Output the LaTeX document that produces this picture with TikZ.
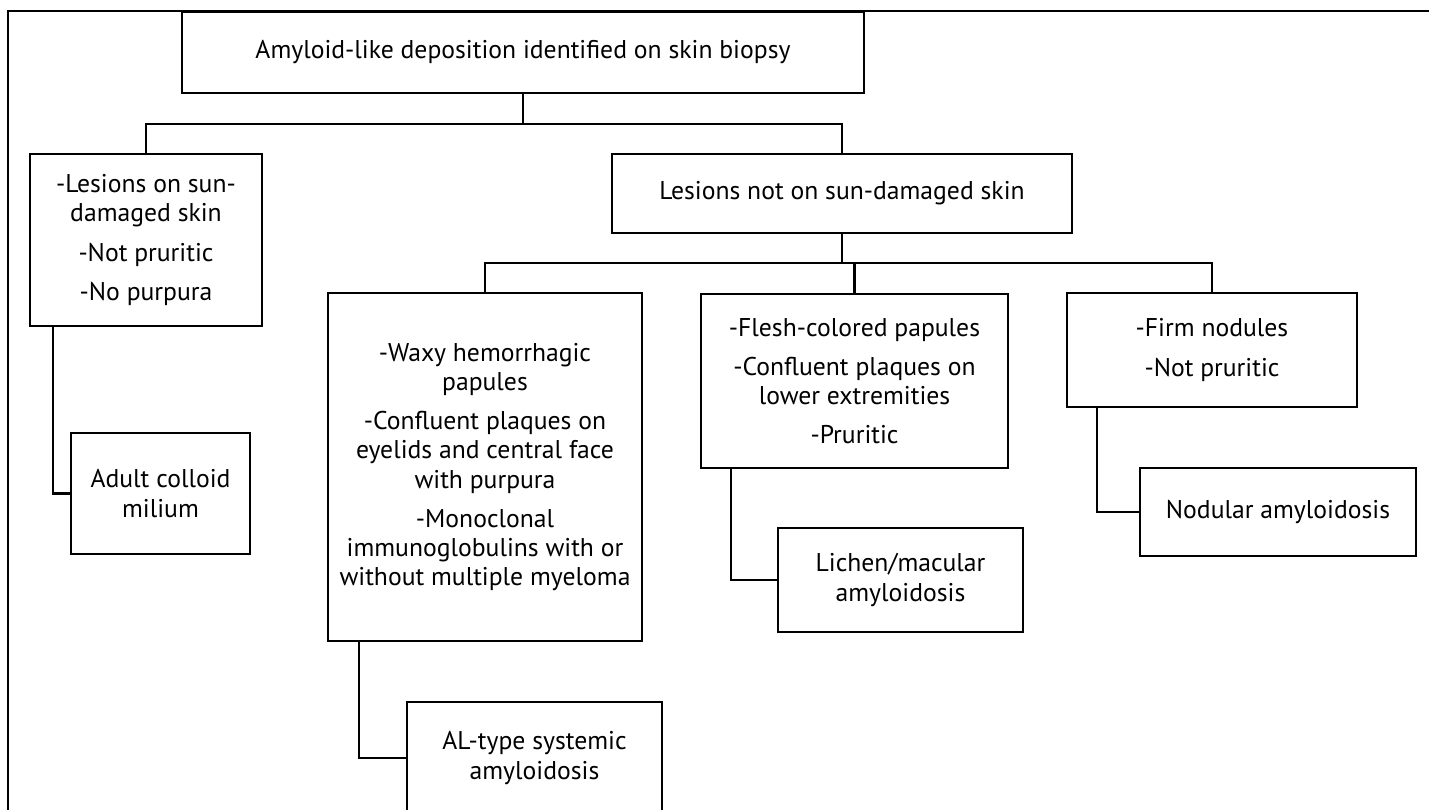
\documentclass[tikz,border=0pt]{standalone}
\usepackage{fontspec}
\setmainfont{PT Sans}
\usetikzlibrary{calc}
\newcommand{\itemgap}{2.0mm}
\tikzset{
  dxbox/.style={draw=black,line width=1.3pt,align=center,inner sep=0pt,
                font=\fontsize{14.6}{16.6}\selectfont},
  link/.style={line width=1.3pt},
  frameline/.style={line width=0.8pt}
}

\begin{document}
\begin{tikzpicture}[x=0.2mm,y=-0.2mm]
  \clip (0,0) rectangle (1429,809);
  % outer frame (runs off the page)
  \draw[frameline] (1440,11) -- (8,11) -- (8,820);

  % top level
  \node[dxbox,minimum width=136.4mm,minimum height=16.2mm] (root) at (523,52.5)
    {Amyloid-like deposition identified on skin biopsy};

  % second level
  \node[dxbox,minimum width=46.4mm,minimum height=34.4mm] (sun) at (146,240)
    {-Lesions on sun-\\damaged skin\\[\itemgap]-Not pruritic\\[\itemgap]-No purpura};
  \node[dxbox,minimum width=92mm,minimum height=15.8mm] (notsun) at (842,193.5)
    {Lesions not on sun-damaged skin};

  % third level
  \node[dxbox,minimum width=62.8mm,minimum height=69.6mm] (waxy) at (485,467)
    {-Waxy hemorrhagic\\papules\\[\itemgap]-Confluent plaques on\\eyelids and central face\\with purpura\\[\itemgap]-Monoclonal\\immunoglobulins with or\\without multiple myeloma};
  \node[dxbox,minimum width=61.4mm,minimum height=34.8mm] (flesh) at (854.5,381)
    {-Flesh-colored papules\\[\itemgap]-Confluent plaques on\\lower extremities\\[\itemgap]-Pruritic};
  \node[dxbox,minimum width=58mm,minimum height=22.8mm] (firm) at (1212,350)
    {-Firm nodules\\[\itemgap]-Not pruritic};

  % diagnoses
  \node[dxbox,minimum width=35.8mm,minimum height=24.2mm] (colloid) at (160.5,493.5)
    {Adult colloid\\milium};
  \node[dxbox,minimum width=51mm,minimum height=22.4mm] (altype) at (534.5,758)
    {AL-type systemic\\amyloidosis};
  \node[dxbox,minimum width=49mm,minimum height=20.8mm] (lichen) at (900.5,580)
    {Lichen/macular\\amyloidosis};
  \node[dxbox,minimum width=55.2mm,minimum height=17.6mm] (nodular) at (1278,512)
    {Nodular amyloidosis};

  % tree connectors
  \coordinate (split1) at (523,124);
  \draw[link] (root.south) -- (split1);
  \draw[link] (sun.north) |- (split1) -| (notsun.north);
  \coordinate (split2) at (842,263);
  \draw[link] (notsun.south) -- (split2);
  \draw[link] (waxy.north) |- (split2) -| (firm.north);
  \draw[link] (flesh.north) -- (flesh.north |- split2);

  % elbows down to the diagnoses
  \draw[link] ($(sun.south west)+(24,0)$) |- (colloid.west);
  \draw[link] ($(waxy.south west)+(32,0)$) |- (altype.west);
  \draw[link] ($(flesh.south west)+(31,0)$) |- (lichen.west);
  \draw[link] ($(firm.south west)+(31,0)$) |- (nodular.west);
\end{tikzpicture}
\end{document}
